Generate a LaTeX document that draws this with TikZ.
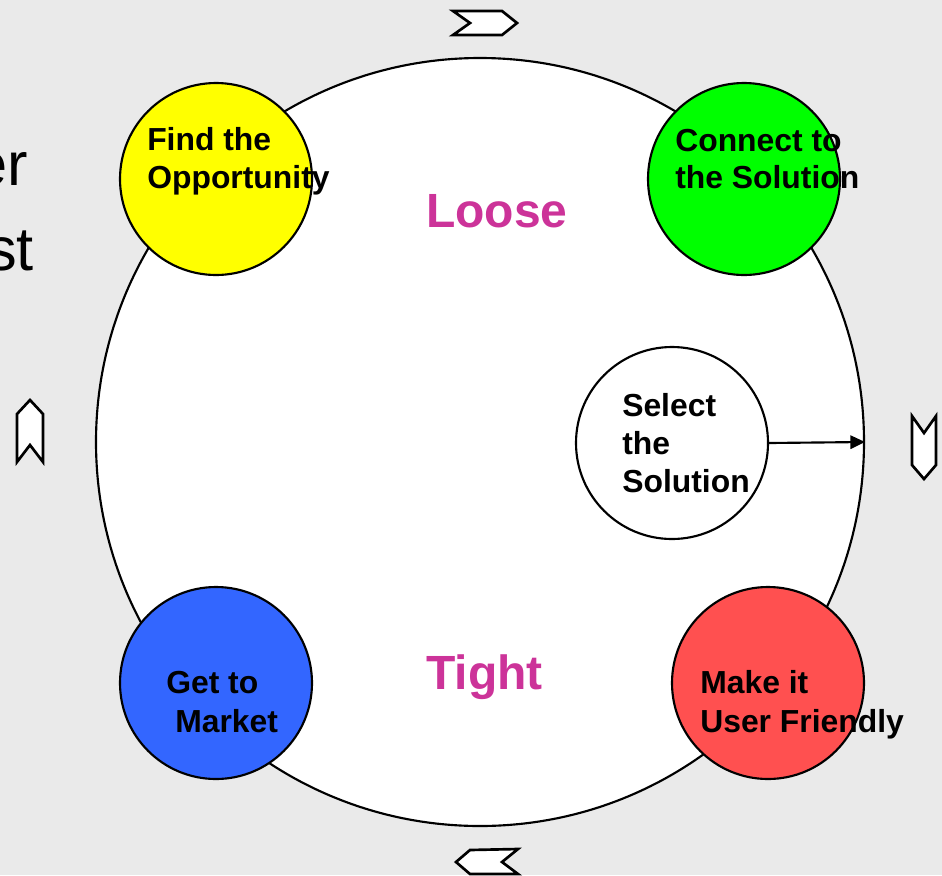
\documentclass[tikz,border=0pt]{standalone}
\usepackage{fontspec}
\setmainfont{Liberation Sans}
\usetikzlibrary{arrows.meta}
\definecolor{bg}{HTML}{EAEAEA}
\definecolor{cyel}{HTML}{FFFF00}
\definecolor{cgrn}{HTML}{00FF00}
\definecolor{cblu}{HTML}{3366FF}
\definecolor{cred}{HTML}{FF5050}
\definecolor{cmag}{HTML}{CC3399}
\tikzset{
  ring/.style={circle,draw=black,line width=1.6pt,inner sep=0pt,minimum size=144pt},
  lbl/.style={anchor=base west,inner sep=0pt,font=\fontsize{23.9}{28}\selectfont\bfseries},
  big/.style={anchor=base west,inner sep=0pt,text=cmag,font=\fontsize{36}{42}\selectfont\bfseries},
  side/.style={anchor=base east,inner sep=0pt,font=\fontsize{46}{55}\selectfont},
  chev/.style={draw=black,fill=white,line width=2pt,line join=miter}
}
\begin{document}
\begin{tikzpicture}[x=0.75pt,y=-0.75pt]
\fill[bg] (0,0) rectangle (942,875);
\useasboundingbox (0,0) rectangle (942,875);
\begin{scope}
\clip (0,0) rectangle (942,875);
\node[side] (t1) at (28,185) {er};
\node[side] (t2) at (34,270) {st};
\end{scope}
% chevrons
\draw[chev] (453,11) -- (502,11) -- (517,23) -- (502,35) -- (453,35) -- (470,23) -- cycle;
\draw[chev] (30,400) -- (43,414) -- (43,462) -- (30,445) -- (17,462) -- (17,414) -- cycle;
\draw[chev] (912,416) -- (924,433) -- (936,416) -- (936,465) -- (924,479) -- (912,465) -- cycle;
\draw[chev] (518,849) -- (470,850) -- (456,862) -- (470,874) -- (518,874) -- (502,862) -- cycle;
% main circle
\node[circle,draw=black,line width=1.6pt,fill=white,inner sep=0pt,minimum size=576pt] (main) at (480,442) {};
\node[ring,fill=cyel] (find) at (216,179) {};
\node[ring,fill=cgrn] (conn) at (744,179) {};
\node[ring,fill=white] (sel) at (672,443) {};
\node[ring,fill=cblu] (get) at (216,683) {};
\node[ring,fill=cred] (make) at (768,683) {};
\draw[line width=1.6pt,-{Triangle[length=11pt,width=10pt]}] (sel.east) -- (main.east);
% labels
\node[lbl] (f1) at (147,150) {Find the};
\node[lbl] (f2) at (147,188) {Opportunity};
\node[lbl] (c1) at (675,151) {Connect to};
\node[lbl] (c2) at (675,188) {the Solution};
\node[lbl] (s1) at (622,416) {Select};
\node[lbl] (s2) at (622,454) {the};
\node[lbl] (s3) at (622,492) {Solution};
\node[lbl] (g1) at (166,693) {Get to};
\node[lbl] (g2) at (175,732) {Market};
\node[lbl] (m1) at (700,693) {Make it};
\node[lbl] (m2) at (700,732) {User Friendly};
\node[big] (loose) at (426,227) {Loose};
\node[big] (tight) at (426,689) {Tight};
\end{tikzpicture}
\end{document}
